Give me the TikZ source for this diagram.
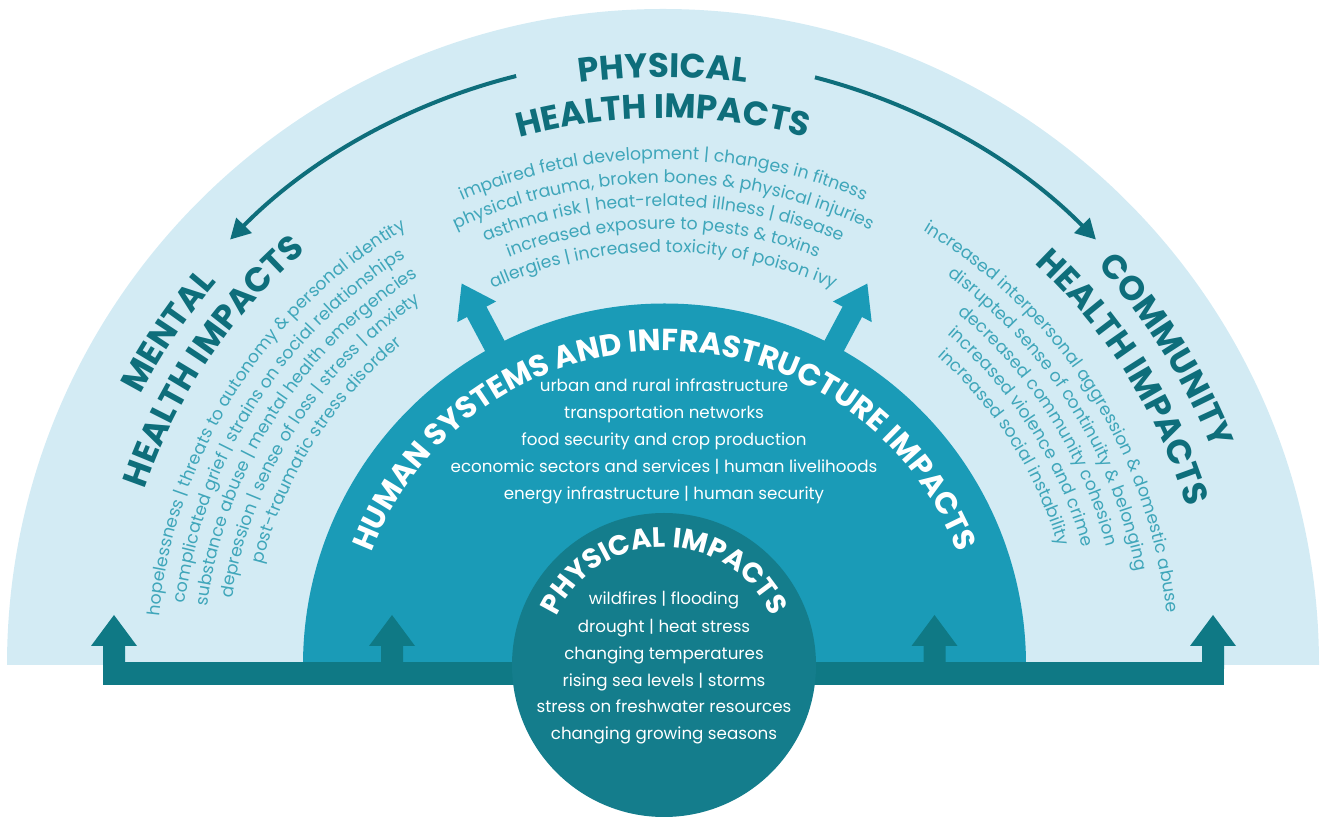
\documentclass[tikz,border=0pt]{standalone}
\usepackage{fontspec}
\setmainfont{Poppins}
\usetikzlibrary{decorations.text,arrows.meta}
\definecolor{lightbg}{HTML}{D3EBF4}
\definecolor{midbl}{HTML}{1A9BB7}
\definecolor{innerbl}{HTML}{147D8C}
\definecolor{barc}{HTML}{0F7985}
\definecolor{headc}{HTML}{0E6E7B}
\definecolor{bodyc}{HTML}{3FA6BA}
\newcommand\hfont{\color{headc}\fontsize{34}{34}\selectfont\bfseries}
\newcommand\bfont{\color{bodyc}\fontsize{17.3}{18}\selectfont}
\newcommand\wfont{\color{white}\fontsize{30.5}{30}\selectfont\bfseries}
\newcommand\pfont{\color{white}\fontsize{28}{28}\selectfont\bfseries}
% #1 centre, #2 radius, #3 mid angle, #4 half span, #5 format, #6 text
\newcommand\arcline[6]{%
  \path[decorate,decoration={text along path,text format delimiters={[}{]},
    text align=center,text={[#5]#6}}]
    (#1) ++({#3+#4}:#2pt) arc[start angle={#3+#4},end angle={#3-#4},radius=#2pt];}
\newcommand\uparr[1]{%
  \fill[barc] ({#1-11},150) -- ({#1-11},173) -- ({#1-23},173) -- (#1,204)
    -- ({#1+23},173) -- ({#1+11},173) -- ({#1+11},150) -- cycle;}
\begin{document}
\begin{tikzpicture}[x=1pt,y=1pt]
\useasboundingbox (0,0) rectangle (1323,819);
\coordinate (C) at (663,154);
\coordinate (M) at (664.5,154);
\coordinate (I) at (664,154);
% outer half disc
\fill[lightbg] (C) ++(0:656pt) arc[start angle=0,end angle=180,radius=656pt] -- cycle;
% diagonal arrows from the middle half disc
\foreach \r in {28,-28}{
  \begin{scope}[shift={(M)},rotate=\r]
    \fill[midbl] (-11,340) -- (-11,400) -- (-22,400) -- (0,432) -- (22,400) -- (11,400) -- (11,340) -- cycle;
  \end{scope}}
% middle half disc
\fill[midbl] (M) ++(0:361.5pt) arc[start angle=0,end angle=180,radius=361.5pt] -- cycle;
% bar with arrows
\fill[barc] (103,134) rectangle (1224,157);
\uparr{114}
\uparr{392}
\uparr{934.5}
\uparr{1213}
% inner disc
\fill[innerbl] (I) circle[radius=152pt];
% curved arrows
\draw[headc,line width=4pt,-{Triangle[length=20pt,width=21pt]}]
  (C) ++(104:607pt) arc[start angle=104,end angle=135.5,radius=607pt];
\draw[headc,line width=4pt,-{Triangle[length=20pt,width=21pt]}]
  (C) ++(75.5:607pt) arc[start angle=75.5,end angle=44.5,radius=607pt];
% physical health
\arcline{C}{588}{90}{40}{\hfont}{PHYSICAL}
\arcline{C}{547}{90}{40}{\hfont}{HEALTH IMPACTS}
\arcline{C}{506}{90}{40}{\bfont}{impaired fetal development | changes in fitness}
\arcline{C}{482}{90}{40}{\bfont}{physical trauma, broken bones {\&} physical injuries}
\arcline{C}{459}{90}{40}{\bfont}{asthma risk | heat-related illness | disease}
\arcline{C}{436}{90}{40}{\bfont}{increased exposure to pests {\&} toxins}
\arcline{C}{413}{90}{40}{\bfont}{allergies | increased toxicity of poison ivy}
% mental health
\arcline{C}{588}{146}{40}{\hfont}{MENTAL}
\arcline{C}{547}{146}{40}{\hfont}{HEALTH IMPACTS}
\arcline{C}{506}{147.5}{40}{\bfont}{hopelessness | threats to autonomy {\&} personal identity}
\arcline{C}{482}{147.5}{40}{\bfont}{complicated grief | strains on social relationships}
\arcline{C}{459}{147.5}{40}{\bfont}{substance abuse | mental health emergencies}
\arcline{C}{436}{147.5}{40}{\bfont}{depression | sense of loss | stress | anxiety}
\arcline{C}{413}{147.5}{40}{\bfont}{post-traumatic stress disorder}
% community health
\arcline{C}{590}{32}{40}{\hfont}{COMMUNITY}
\arcline{C}{547}{32}{40}{\hfont}{HEALTH IMPACTS}
\arcline{C}{506}{32.5}{40}{\bfont}{increased interpersonal aggression {\&} domestic abuse}
\arcline{C}{482}{32.5}{40}{\bfont}{disrupted sense of continuity {\&} belonging}
\arcline{C}{459}{32.5}{40}{\bfont}{decreased community cohesion}
\arcline{C}{436}{32.5}{40}{\bfont}{increased violence and crime}
\arcline{C}{413}{32.5}{40}{\bfont}{increased social instability}
% human systems
\arcline{M}{314}{90}{85}{\wfont}{HUMAN SYSTEMS AND INFRASTRUCTURE IMPACTS}
\begin{scope}[every node/.style={anchor=base,text=white,font=\fontsize{16.7}{17}\selectfont}]
\node (h1) at (664,427) {urban and rural infrastructure};
\node (h2) at (664,400) {transportation networks};
\node (h3) at (664,373) {food security and crop production};
\node (h4) at (664,346) {economic sectors and services | human livelihoods};
\node (h5) at (664,319) {energy infrastructure | human security};
\end{scope}
% physical impacts
\arcline{I}{118}{90}{85}{\pfont}{PHYSICAL IMPACTS}
\begin{scope}[every node/.style={anchor=base,text=white,font=\fontsize{16.7}{17}\selectfont}]
\node (p1) at (664,214) {wildfires | flooding};
\node (p2) at (664,186) {drought | heat stress};
\node (p3) at (664,159) {changing temperatures};
\node (p4) at (664,132) {rising sea levels | storms};
\node (p5) at (664,106) {stress on freshwater resources};
\node (p6) at (664,79) {changing growing seasons};
\end{scope}
\end{tikzpicture}
\end{document}
